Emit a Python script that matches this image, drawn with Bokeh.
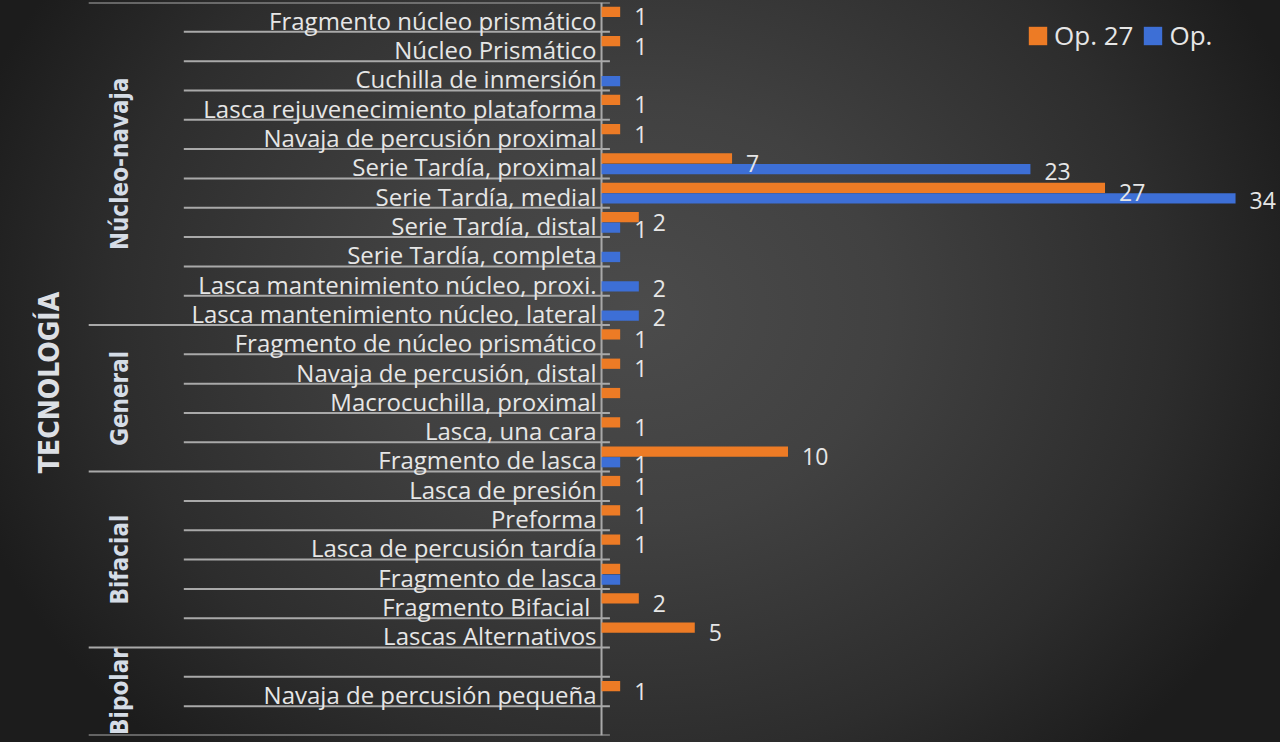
import math
from bokeh.plotting import figure
from bokeh.models import FactorRange, Range1d, ColumnDataSource, Legend, LegendItem
from bokeh.transform import dodge
from bokeh.core.properties import value
from bokeh.embed import file_html
from bokeh.resources import INLINE

# ---------------- data ----------------
groups = (["Núcleo-navaja"] * 11 + ["General"] * 5 + ["Bifacial"] * 6 + ["Bipolar"] * 3)
categories = [
    "Fragmento núcleo prismático", "Núcleo Prismático", "Cuchilla de inmersión",
    "Lasca rejuvenecimiento plataforma", "Navaja de percusión proximal",
    "Serie Tardía, proximal", "Serie Tardía, medial", "Serie Tardía, distal",
    "Serie Tardía, completa", "Lasca mantenimiento núcleo, proxi.",
    "Lasca mantenimiento núcleo, lateral",
    "Fragmento de núcleo prismático", "Navaja de percusión, distal",
    "Macrocuchilla, proximal", "Lasca, una cara", "Fragmento de lasca",
    "Lasca de presión", "Preforma", "Lasca de percusión tardía",
    "Fragmento de lasca", "Fragmento  Bifacial", "Lascas Alternativos",
    " ", "Navaja de percusión pequeña", "  ",
]
op27 = [1, 1, 0, 1, 1, 7, 27, 2, 0, 0, 0,
        1, 1, 1, 1, 10,
        1, 1, 1, 1, 2, 5,
        0, 1, 0]
op = [0, 0, 1, 0, 0, 23, 34, 1, 1, 2, 2,
      0, 0, 0, 0, 1,
      0, 0, 0, 1, 0, 0,
      0, 0, 0]
op27_labels = ["1", "1", "", "1", "1", "7", "27", "2", "", "", "",
               "1", "1", "", "1", "10",
               "1", "1", "1", "", "2", "5",
               "", "1", ""]
op_labels = ["", "", "", "", "", "23", "34", "1", "", "2", "2",
             "", "", "", "", "1",
             "", "", "", "", "", "",
             "", "", ""]
group_names = ["Núcleo-navaja", "General", "Bifacial", "Bipolar"]
series_names = ["Op. 27", "Op."]
axis_title = "TECNOLOGÍA"

ORANGE = "#ED7B25"
BLUE = "#3D6FD6"
TXT = "#E6E6E6"
LINE = "#A9A9A9"
FONT = value("Open Sans")

factors = list(zip(groups, categories))

p = figure(
    width=1280, height=742,
    y_range=FactorRange(factors=factors[::-1], group_padding=0,
                        factor_padding=0, range_padding=0),
    x_range=Range1d(-32.23, 36.41),
    x_axis_location=None, y_axis_location=None,
    toolbar_location=None, output_backend="svg",
    min_border_left=0, min_border_right=0,
    min_border_top=2, min_border_bottom=7,
)
p.grid.visible = False
p.outline_line_color = None
p.background_fill_color = None
p.border_fill_color = None
p.styles = {
    "background": "radial-gradient(ellipse 55% 80% at 50% 42%, #4b4b4b 0%, #414141 35%, #2d2d2d 75%, #1c1c1c 100%)"
}

src = ColumnDataSource(dict(y=factors, cat=categories, op27=op27, op=op,
                            l27=op27_labels, lop=op_labels))

# separator lines between rows
cat_y, grp_y = [], []
for i, f in enumerate(factors):
    top = (f[0], f[1], 0.5)
    if i == 0 or groups[i] != groups[i - 1]:
        grp_y.append(top)
    else:
        cat_y.append(top)
grp_y.append((factors[-1][0], factors[-1][1], -0.5))

p.segment(x0=-22.4, x1=0.45, y0=cat_y, y1=cat_y, line_color=LINE, line_width=2)
p.segment(x0=-27.5, x1=0.45, y0=grp_y, y1=grp_y, line_color=LINE, line_width=2)
p.segment(x0=[0], x1=[0], y0=[grp_y[0]], y1=[grp_y[-1]], line_color=LINE, line_width=2)

# bars
r1 = p.hbar(y=dodge("y", 0.18, range=p.y_range), left=0, right="op27", height=0.35,
            fill_color=ORANGE, line_color=None, source=src)
r2 = p.hbar(y=dodge("y", -0.18, range=p.y_range), left=0, right="op", height=0.35,
            fill_color=BLUE, line_color=None, source=src)

# data labels
p.text(x="op27", y=dodge("y", 0.18, range=p.y_range), text="l27", source=src,
       x_offset=14, y_offset=5, text_align="left", text_baseline="middle",
       text_font=FONT, text_font_size="23px", text_color=TXT)
p.text(x="op", y=dodge("y", -0.18, range=p.y_range), text="lop", source=src,
       x_offset=14, y_offset=2, text_align="left", text_baseline="middle",
       text_font=FONT, text_font_size="23px", text_color=TXT)

# category labels
p.text(x=0, y="y", text="cat", source=src, x_offset=-5, y_offset=3,
       text_align="right", text_baseline="middle",
       text_font=FONT, text_font_size="24px", text_color=TXT)

# group labels
COND = value("Liberation Sans Narrow, DejaVu Sans Condensed, sans-serif")
p.text(x=-25.8, y=group_names, text=group_names, angle=math.pi / 2,
       text_align="center", text_baseline="middle",
       text_font=COND, text_font_style="bold", text_font_size="24px",
       text_color="#D5DCE6")

# axis title
p.text(x=[-29.6], y=[("General", "Navaja de percusión, distal", -0.46)],
       text=[axis_title], angle=math.pi / 2,
       text_align="center", text_baseline="middle",
       text_font=COND, text_font_style="bold", text_font_size="28px",
       text_color="#DCDFE4")

legend = Legend(items=[LegendItem(label=series_names[0], renderers=[r1]),
                       LegendItem(label=series_names[1], renderers=[r2])],
                orientation="horizontal", location=(1026, 682),
                background_fill_alpha=0, border_line_color=None,
                label_text_color=TXT, label_text_font="Open Sans",
                label_text_font_size="26px", glyph_width=23, glyph_height=23,
                label_standoff=5, spacing=8, padding=0, margin=0,
                label_height=28)
p.add_layout(legend)

open("out.html", "w").write(file_html(p, INLINE))
